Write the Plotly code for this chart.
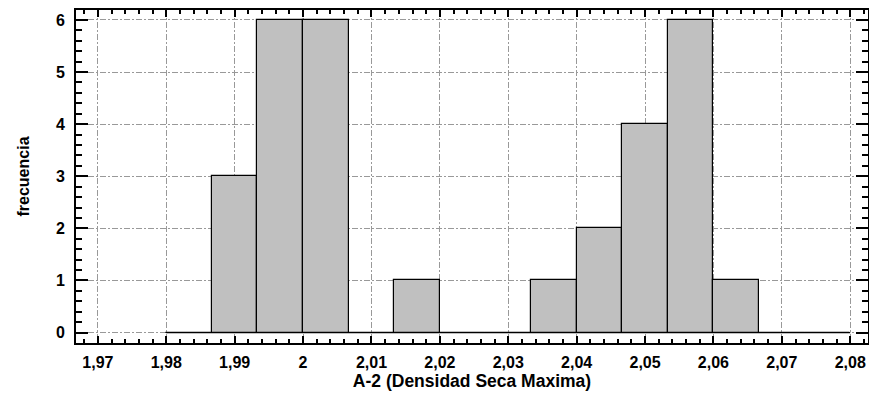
import plotly.graph_objects as go

# Data
bin_start = 1.98
bin_width = 1 / 150
counts = [0, 3, 6, 6, 0, 1, 0, 0, 1, 2, 4, 6, 1, 0, 0]
x_tick_vals = [1.97, 1.98, 1.99, 2.00, 2.01, 2.02, 2.03, 2.04, 2.05, 2.06, 2.07, 2.08]
y_tick_vals = [0, 1, 2, 3, 4, 5, 6]
x_title = "A-2 (Densidad Seca Maxima)"
y_title = "frecuencia"

centers = [bin_start + bin_width * (i + 0.5) for i in range(len(counts))]
bin_end = bin_start + bin_width * len(counts)

fig = go.Figure()
# baseline for empty bins
fig.add_trace(go.Scatter(x=[bin_start, bin_end], y=[0, 0], mode="lines",
                         line=dict(color="black", width=1.2), hoverinfo="skip",
                         showlegend=False))
fig.add_trace(go.Bar(x=centers, y=counts, width=bin_width,
                     marker=dict(color="#C0C0C0", line=dict(color="black", width=1.2)),
                     showlegend=False))

FAM = "Liberation Sans, Arial, sans-serif"
font_main = dict(family=FAM, size=16, color="black")
GRID_DASH = "6px,2px,2px,2px"

fig.update_layout(
    width=869, height=394,
    margin=dict(l=76, r=1, t=10, b=51),
    plot_bgcolor="white", paper_bgcolor="white",
    separators=",.",
    font=font_main,
    bargap=0,
)
fig.update_xaxes(
    automargin=False,
    range=[1.9668, 2.0826],
    tickvals=x_tick_vals,
    tickformat=".2~f",
    ticks="inside", ticklen=7, tickwidth=2, tickcolor="black",
    minor=dict(ticks="inside", ticklen=4, tickwidth=1.5, tickcolor="black",
               dtick=0.002, tick0=1.97, showgrid=False),
    showline=True, linecolor="black", linewidth=2, mirror="ticks",
    showgrid=True, gridcolor="#999999", gridwidth=1, griddash=GRID_DASH,
    zeroline=False,
    tickfont=dict(family=FAM, size=16, color="black", weight="bold"),
    ticklabelstandoff=4,
    title=dict(text="<b>" + x_title + "</b>", standoff=2,
               font=dict(family=FAM, size=17.5, color="black")),
)
fig.update_yaxes(
    automargin=False,
    range=[-0.2, 6.19],
    tickvals=y_tick_vals,
    ticks="inside", ticklen=12, tickwidth=2, tickcolor="black",
    minor=dict(ticks="inside", ticklen=6, tickwidth=1.5, tickcolor="black",
               dtick=0.2, tick0=0, showgrid=False),
    showline=True, linecolor="black", linewidth=2, mirror="ticks",
    showgrid=True, gridcolor="#999999", gridwidth=1, griddash=GRID_DASH,
    zeroline=False,
    tickfont=dict(family=FAM, size=16, color="black", weight="bold"),
    ticklabelstandoff=6,
    title=dict(text="<b>" + y_title + "</b>", standoff=22,
               font=dict(family=FAM, size=16, color="black")),
)

fig.write_html("out.html", config={"displayModeBar": False},
               post_script="document.body.style.margin='0';document.body.style.padding='0';")
